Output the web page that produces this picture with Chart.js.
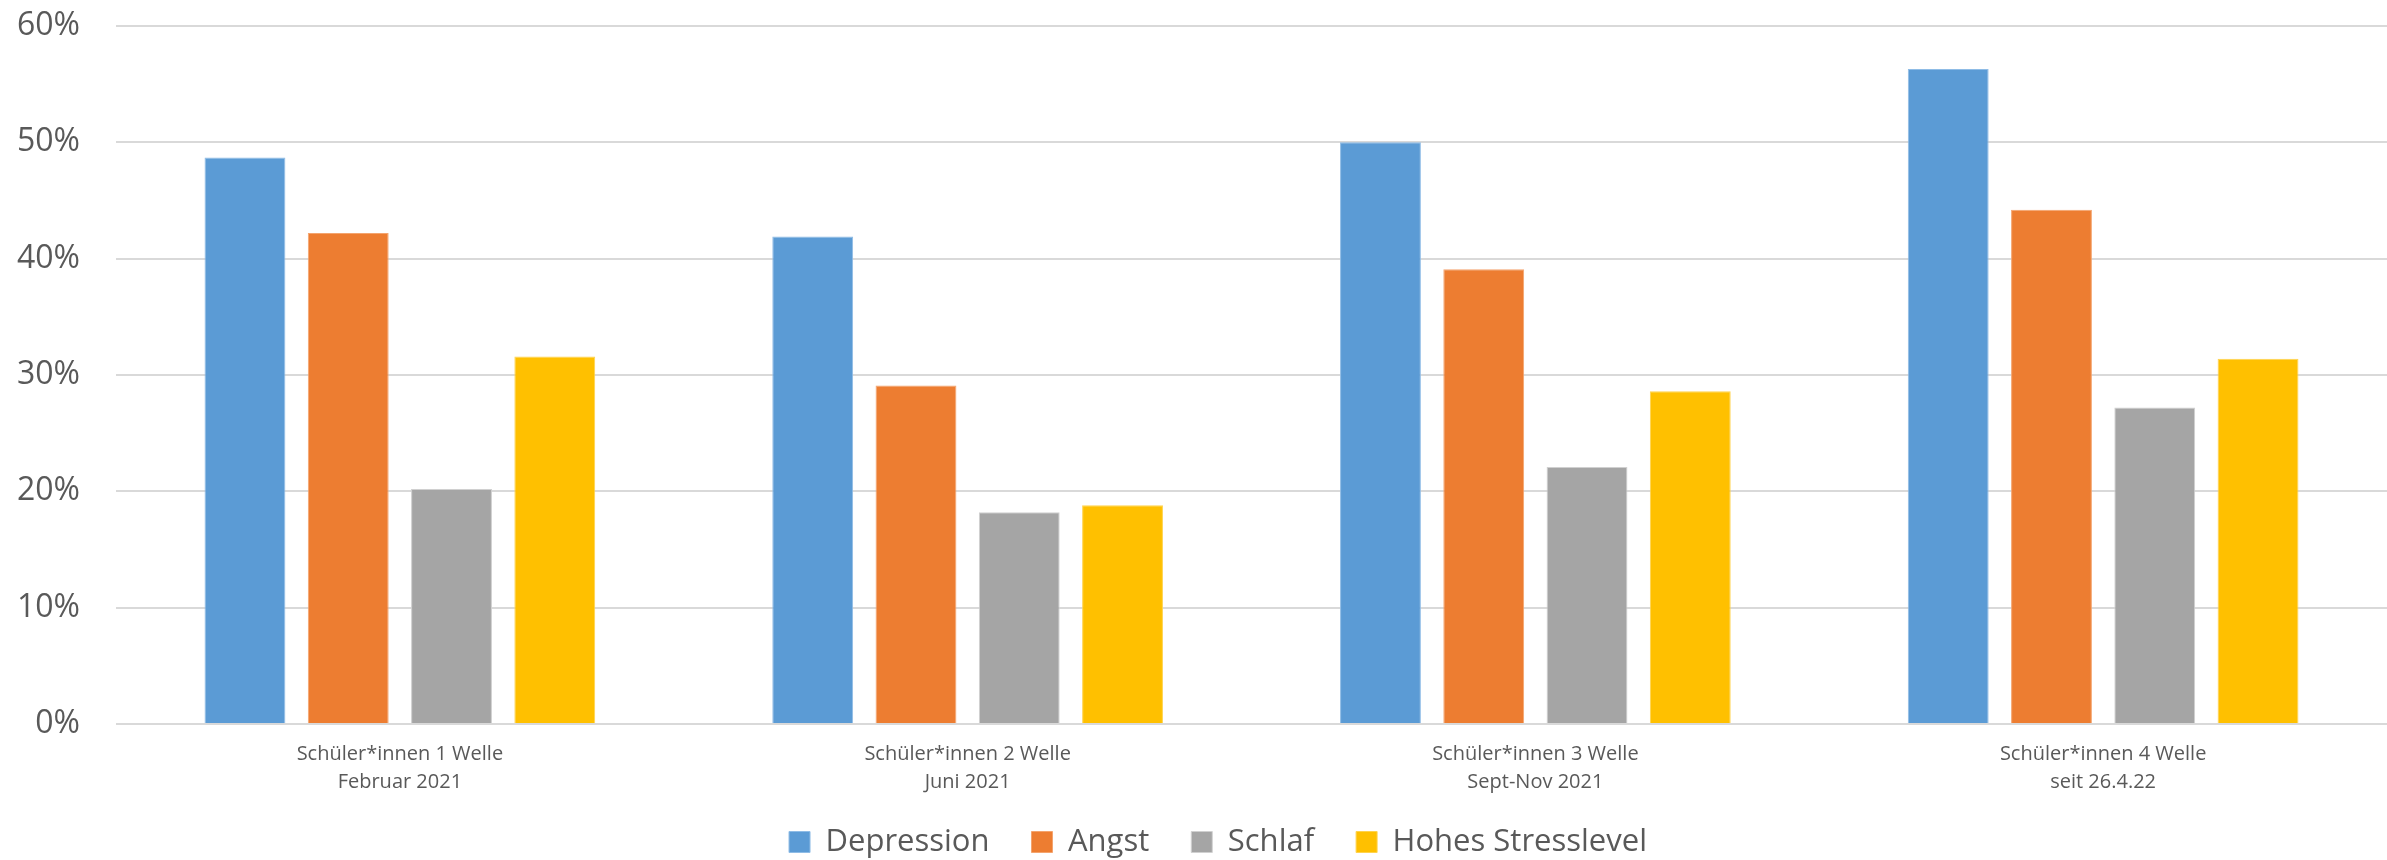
<!DOCTYPE html>
<html lang="de">
<head>
<meta charset="utf-8">
<title>Psychische Belastung bei Schüler*innen</title>
<script src="https://cdn.jsdelivr.net/npm/chart.js@4.4.1/dist/chart.umd.min.js"></script>
<style>
  html, body { margin: 0; padding: 0; background: #ffffff; overflow: hidden; }
  #wrap { position: relative; width: 2387px; height: 860px; }
</style>
</head>
<body>
<div id="wrap"><canvas id="chart"></canvas></div>
<script>
// Survey waves (two-line axis labels)
const waves = [
  ['Schüler*innen 1 Welle', 'Februar 2021'],
  ['Schüler*innen 2 Welle', 'Juni 2021'],
  ['Schüler*innen 3 Welle', 'Sept-Nov 2021'],
  ['Schüler*innen 4 Welle', 'seit 26.4.22']
];

// Share of pupils per symptom, in percent
const depression = [48.7, 41.9, 50.0, 56.3];
const angst      = [42.2, 29.1, 39.1, 44.2];
const schlaf     = [20.2, 18.2, 22.1, 27.2];
const stress     = [31.6, 18.8, 28.6, 31.4];

const seriesNames = ['Depression', 'Angst', 'Schlaf', 'Hohes Stresslevel'];
const yTicks = [0, 10, 20, 30, 40, 50, 60];

const colors = ['#5B9BD5', '#ED7D31', '#A5A5A5', '#FFC000'];
const edges  = ['#8FBCE6', '#F4A46E', '#D0D0D0', '#FFD34D'];
const textColor = '#595959';
const gridColor = '#D9D9D9';

const seriesValues = [depression, angst, schlaf, stress];
const datasets = seriesNames.map((name, i) => ({
  label: name,
  data: seriesValues[i],
  backgroundColor: colors[i],
  borderColor: edges[i],
  borderWidth: 1,
  borderSkipped: 'start',
  categoryPercentage: 0.7276,
  barPercentage: 0.783
}));

// The two-line category labels need more vertical room than the
// x-axis box reserves in the layout, so widen its label clip area.
const labelRoom = {
  id: 'labelRoom',
  afterLayout(chart) {
    const x = chart.scales.x;
    x.bottom = x.top + 80;
  }
};

new Chart(document.getElementById('chart'), {
  type: 'bar',
  data: { labels: waves, datasets },
  plugins: [labelRoom],
  options: {
    responsive: true,
    maintainAspectRatio: false,
    animation: false,
    devicePixelRatio: 1,
    layout: { autoPadding: false, padding: { top: 26, left: 0, right: -49, bottom: -7.5 } },
    plugins: {
      legend: {
        position: 'bottom',
        align: 'center',
        labels: {
          boxWidth: 21,
          boxHeight: 21,
          padding: 42,
          color: textColor,
          font: { family: '"Open Sans", "Noto Sans", sans-serif', size: 31 }
        }
      },
      tooltip: { enabled: false }
    },
    scales: {
      x: {
        grid: { display: false, drawTicks: false },
        border: { display: false },
        ticks: {
          color: textColor,
          padding: 16,
          maxRotation: 0,
          autoSkip: false,
          font: { family: '"Open Sans", "Noto Sans", sans-serif', size: 20, lineHeight: 1.42 }
        },
        afterFit: (scale) => { scale.height = 60.5; }
      },
      y: {
        min: 0,
        max: 60,
        afterBuildTicks: (scale) => { scale.ticks = yTicks.map(v => ({ value: v })); },
        grid: { color: gridColor, lineWidth: 2, drawTicks: false },
        border: { display: false },
        ticks: {
          color: textColor,
          padding: 36,
          font: { family: '"Open Sans", "Noto Sans", sans-serif', size: 32 },
          callback: (v) => v + '%'
        },
        afterFit: (scale) => {
          scale.width = 116;
          scale.paddingTop = 0;
          scale.paddingBottom = 0;
        }
      },
      yRight: {
        position: 'right',
        display: true,
        grid: { display: false, drawTicks: false },
        border: { display: false },
        ticks: { display: false },
        afterFit: (scale) => { scale.width = 44; }
      }
    }
  }
});
</script>
</body>
</html>
